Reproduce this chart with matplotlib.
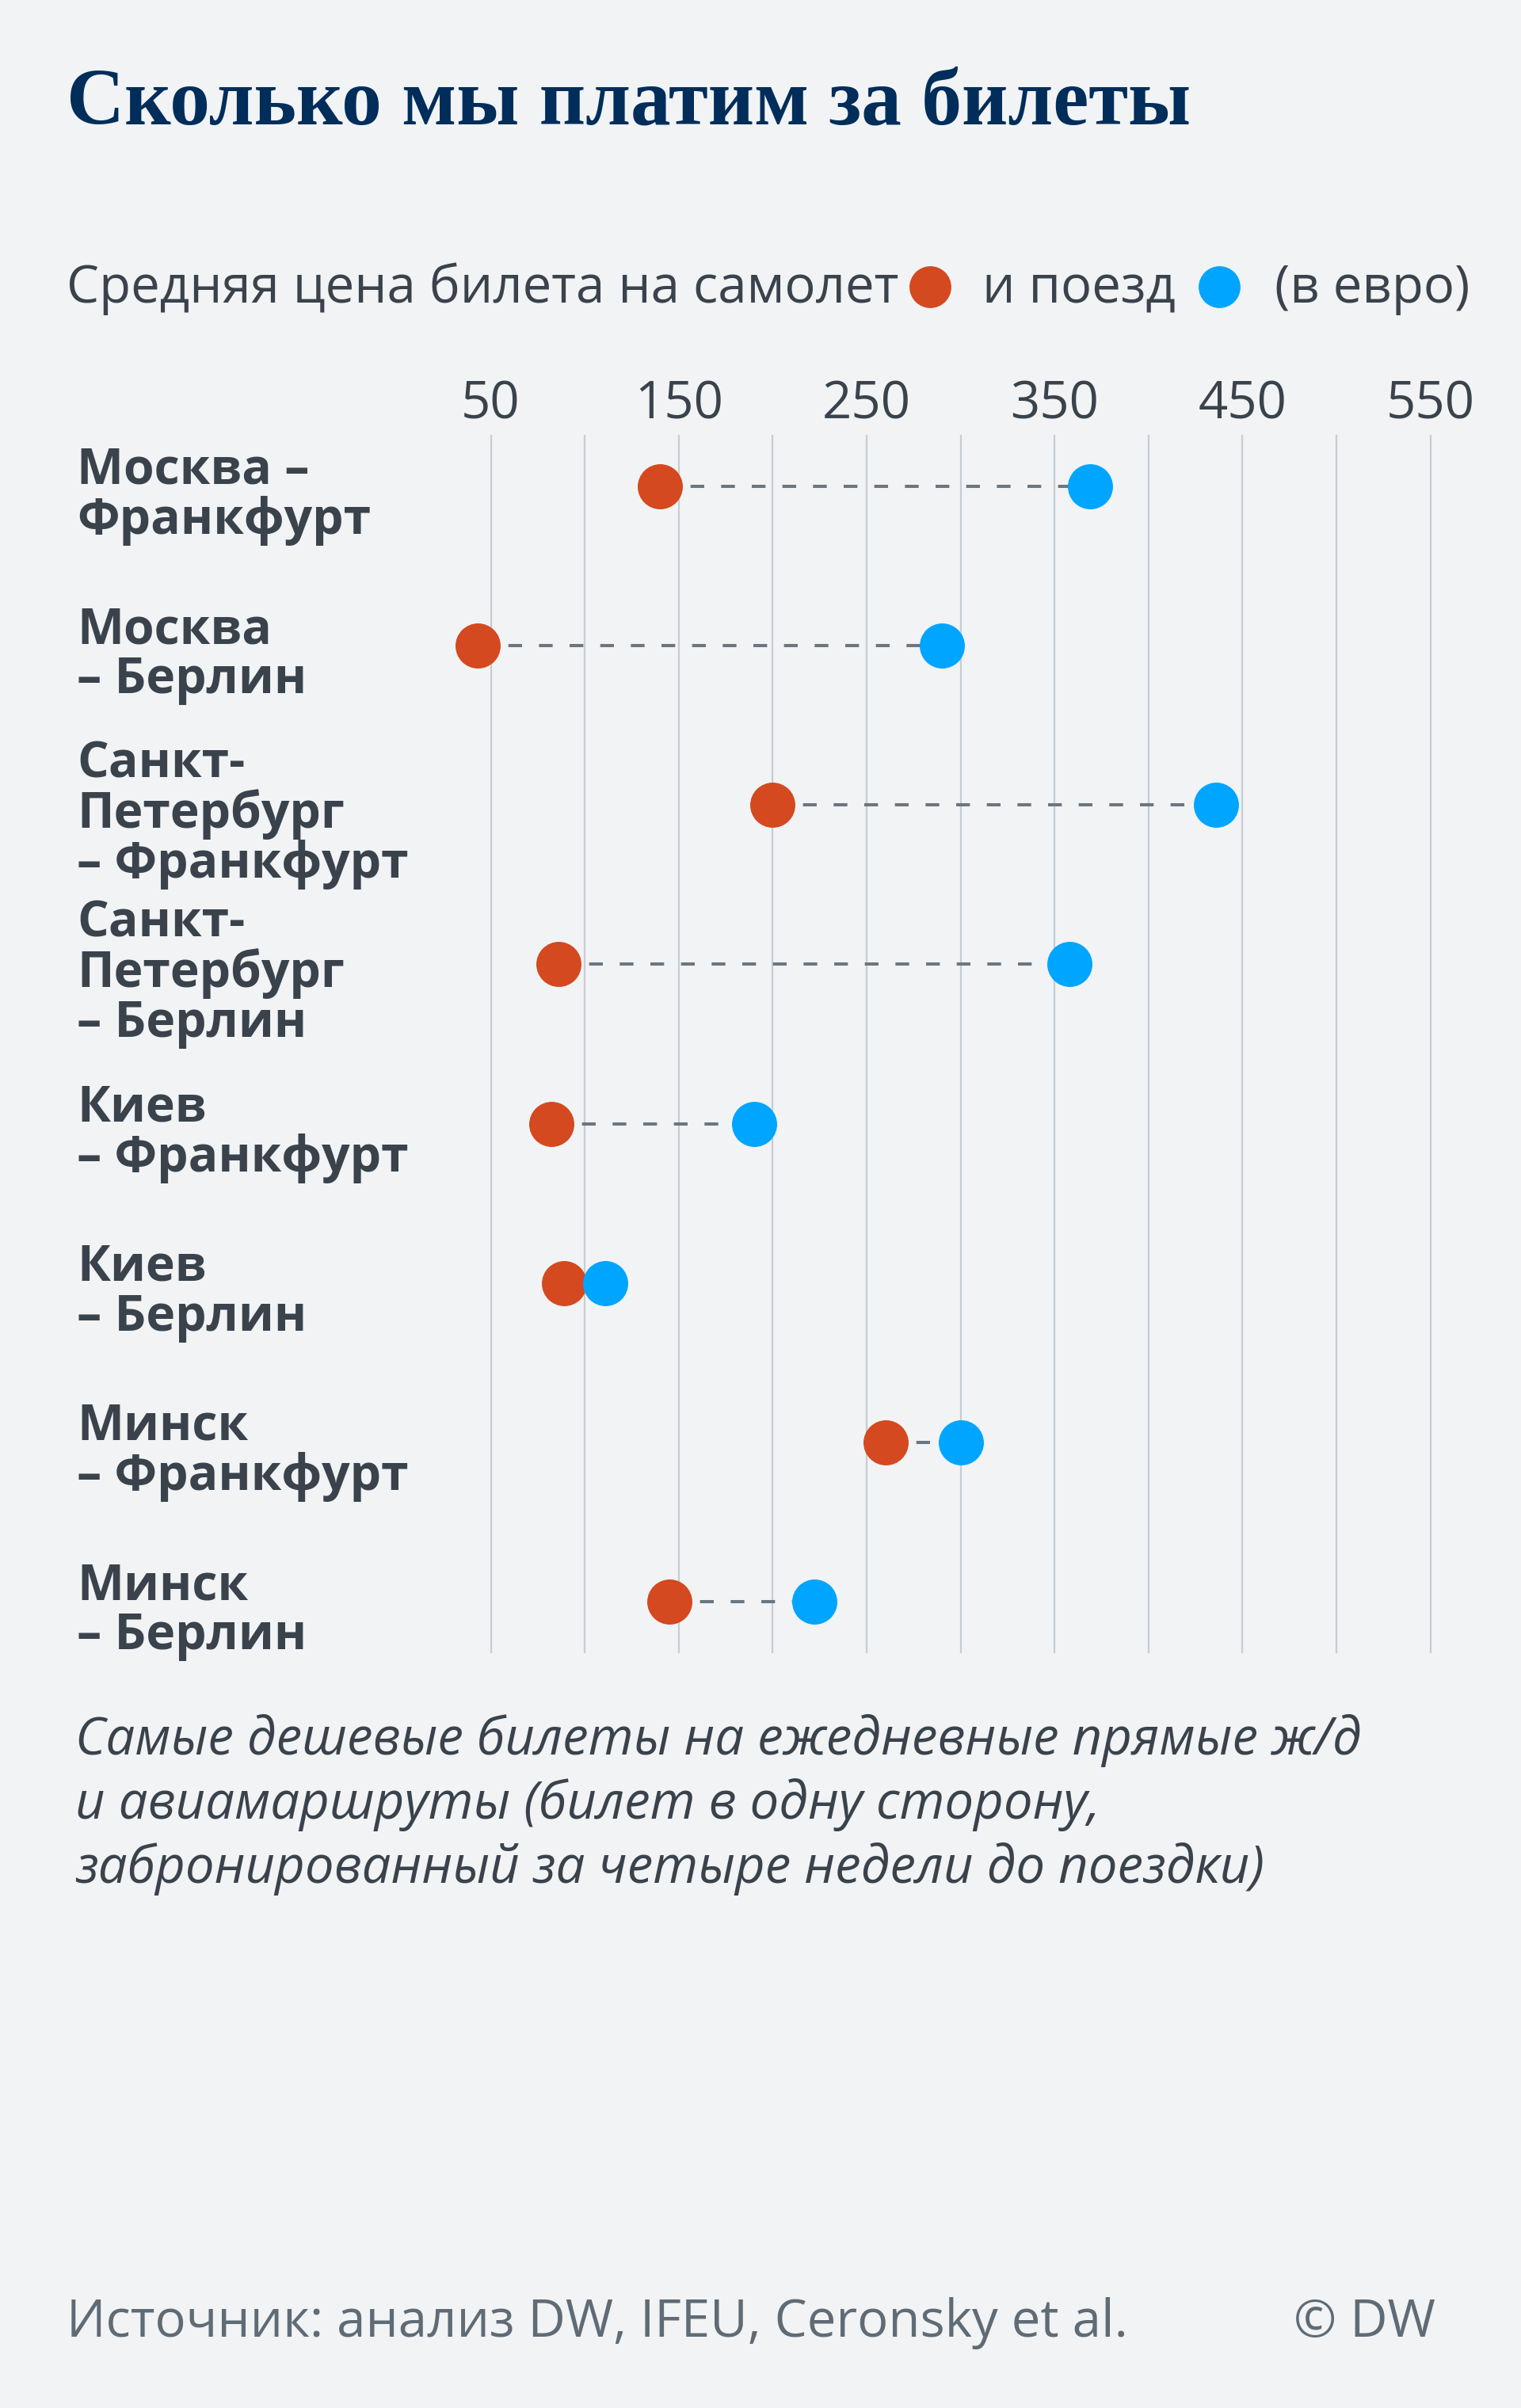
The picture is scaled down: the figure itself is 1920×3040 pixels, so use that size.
import matplotlib
matplotlib.use("Agg")
import matplotlib.pyplot as plt
from matplotlib.lines import Line2D
from matplotlib.transforms import (IdentityTransform, blended_transform_factory,
                                   offset_copy)

# ── data ──────────────────────────────────────────────────────────────────────
routes = [
    "Москва –\nФранкфурт",
    "Москва\n– Берлин",
    "Санкт-\nПетербург\n– Франкфурт",
    "Санкт-\nПетербург\n– Берлин",
    "Киев\n– Франкфурт",
    "Киев\n– Берлин",
    "Минск\n– Франкфурт",
    "Минск\n– Берлин",
]
plane_price = [140, 43, 200, 86, 82, 89, 260, 145]
train_price = [369, 290, 436, 358, 190, 111, 300, 222]
tick_major = [50, 150, 250, 350, 450, 550]
tick_minor = [100, 200, 300, 400, 500]

# ── style ─────────────────────────────────────────────────────────────────────
W, H = 1920, 3040
BG     = "#f1f3f5"
RED    = "#d4491f"
BLUE   = "#00a5ff"
TEXT   = "#3a434c"
NAVY   = "#002d5a"
GREY   = "#5f6b75"
GRID   = "#c6cdd3"
DASH   = "#6b7680"
SANS   = ["Open Sans", "DejaVu Sans"]

plt.rcParams["font.family"] = SANS

fig = plt.figure(figsize=(W / 100, H / 100), dpi=100, facecolor=BG)


def fx(px):
    return px / W


def fy(py):
    return 1 - py / H


# title
fig.text(fx(84), fy(157), "Сколько мы платим за билеты",
         family=["Liberation Serif", "DejaVu Serif"], fontweight="bold",
         fontsize=73, color=NAVY, ha="left", va="baseline")

# subtitle with inline legend dots
fig.canvas.draw()
r = fig.canvas.get_renderer()
t1 = fig.text(fx(84), fy(382), "Средняя цена билета на самолет",
              fontsize=47, color=TEXT, ha="left", va="baseline")
x = t1.get_window_extent(r).x1 + 40
fig.add_artist(Line2D([x], [H - 362], marker="o", ms=37, color=RED,
                      linestyle="none", transform=IdentityTransform()))
t2 = fig.text((x + 66) / W, fy(382), "и поезд",
              fontsize=47, color=TEXT, ha="left", va="baseline")
x = t2.get_window_extent(r).x1 + 55
fig.add_artist(Line2D([x], [H - 362], marker="o", ms=37, color=BLUE,
                      linestyle="none", transform=IdentityTransform()))
fig.text((x + 70) / W, fy(382), "(в евро)",
         fontsize=47, color=TEXT, ha="left", va="baseline")

# ── chart ─────────────────────────────────────────────────────────────────────
ax_left, ax_right, ax_top, ax_bot = 560, 1860, 549, 2087
ax = fig.add_axes([fx(ax_left), fy(ax_bot), (ax_right - ax_left) / W,
                   (ax_bot - ax_top) / H])
ax.set_facecolor(BG)
px_per_unit = 2.372
x0 = 501
ax.set_xlim((ax_left - x0) / px_per_unit, (ax_right - x0) / px_per_unit)
n = len(routes)
pad = 0.323
ax.set_ylim(n - 1 + pad, -pad)

for s in ax.spines.values():
    s.set_visible(False)
ax.xaxis.tick_top()
ax.set_xticks(tick_major)
ax.set_xticklabels([str(v) for v in tick_major])
ax.set_xticks(tick_minor, minor=True)
ax.tick_params(axis="x", which="both", length=0, pad=3,
               labelsize=47, labelcolor=TEXT)
ax.set_yticks([])
ax.grid(axis="x", which="both", color=GRID, linewidth=1.6)
ax.set_axisbelow(True)

ys = list(range(n))
for i in ys:
    ax.plot([plane_price[i], train_price[i]], [i, i], color=DASH,
            linewidth=2.9, linestyle=(0, (4.3, 5.3)), zorder=2,
            dash_capstyle="butt")
ax.plot(plane_price, ys, "o", ms=41, color=RED, zorder=3, markeredgewidth=0)
ax.plot(train_price, ys, "o", ms=41, color=BLUE, zorder=3, markeredgewidth=0)

# route labels sit a little below the dot line
lab_tr = offset_copy(blended_transform_factory(fig.transFigure, ax.transData),
                     fig=fig, y=-12, units="dots")
for i, name in enumerate(routes):
    ax.text(fx(97), i, name, transform=lab_tr, ha="left", va="center",
            fontsize=45, fontweight="bold", color=TEXT, linespacing=1.0)

# ── notes ─────────────────────────────────────────────────────────────────────
# va="baseline" on multi-line text anchors the last line
fig.text(fx(95), fy(2377),
         "Самые дешевые билеты на ежедневные прямые ж/д\n"
         "и авиамаршруты (билет в одну сторону,\n"
         "забронированный за четыре недели до поездки)",
         fontsize=47, style="italic", color=TEXT, ha="left", va="baseline",
         linespacing=1.27)

fig.text(fx(84), fy(2950), "Источник: анализ DW, IFEU, Ceronsky et al.",
         fontsize=47, color=GREY, ha="left", va="baseline")
fig.text(fx(1812), fy(2950), "© DW",
         fontsize=47, color=GREY, ha="right", va="baseline")

fig.savefig("out.png", dpi=100, facecolor=BG)
